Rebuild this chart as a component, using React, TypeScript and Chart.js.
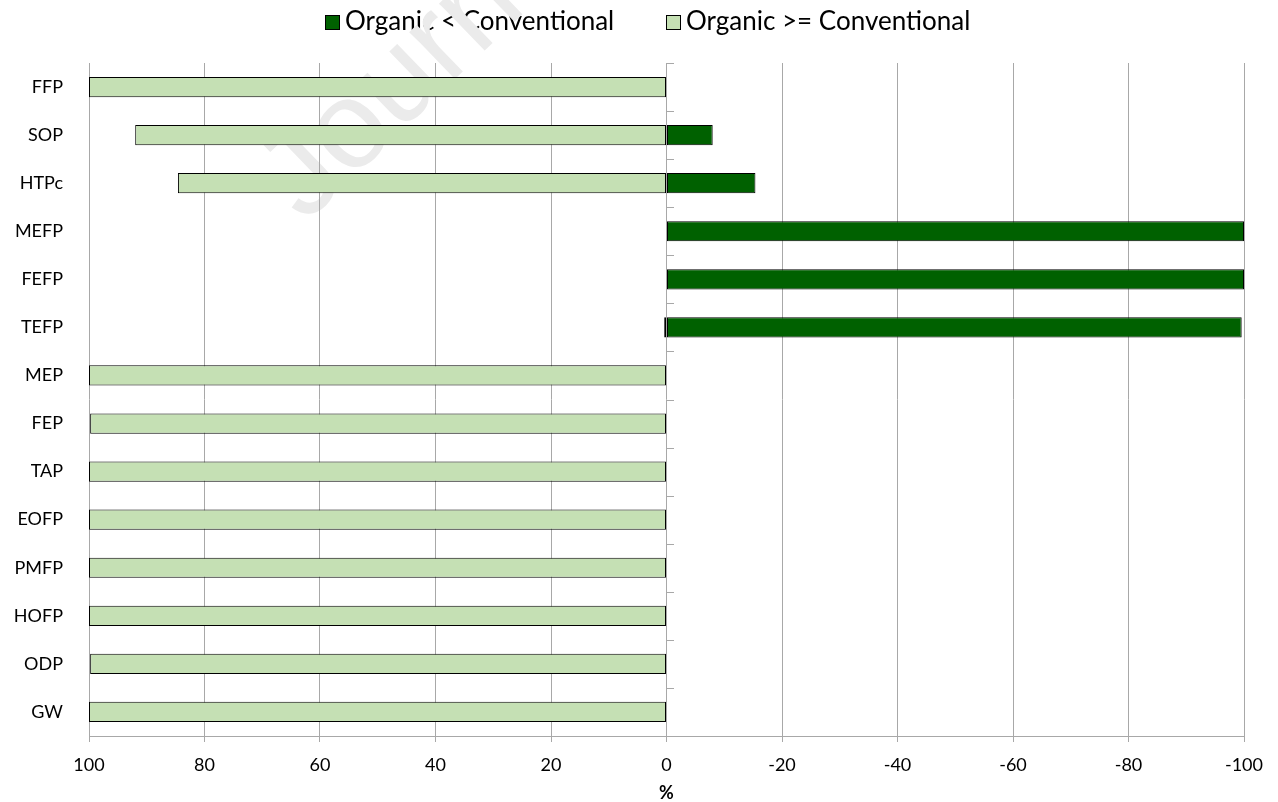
import React, { useEffect, useRef } from "react";
import { Chart, registerables } from "chart.js";

Chart.register(...registerables);

// Impact categories, top to bottom
const categories = [
  "FFP",
  "SOP",
  "HTPc",
  "MEFP",
  "FEFP",
  "TEFP",
  "MEP",
  "FEP",
  "TAP",
  "EOFP",
  "PMFP",
  "HOFP",
  "ODP",
  "GW",
];

// Share (%) of cases where organic scores lower than conventional (plotted to the right, negative)
const organicLower = [0, -8, -15.4, -100, -100, -99.6, 0, 0, 0, 0, 0, 0, 0, 0];

// Share (%) of cases where organic scores equal or higher (plotted to the left, positive)
const organicHigherOrEqual = [100, 92, 84.6, 0, 0, 0.4, 100, 99.8, 100, 100, 100, 100, 99.8, 100];

const seriesLabels = ["Organic < Conventional", "Organic >= Conventional"];

const xMin = -100;
const xMax = 100;
const xStep = 20;
const xTitle = "%";

const DARK_GREEN = "#006100";
const LIGHT_GREEN = "#C5E0B4";
const GRID = "#a8a8a8";
const FONT = "Lato";

// Background, legend row and the faint diagonal stamp behind the plot
const backdropPlugin = {
  id: "backdrop",
  beforeDraw(chart: any) {
    const ctx: CanvasRenderingContext2D = chart.ctx;
    ctx.save();
    ctx.fillStyle = "#ffffff";
    ctx.fillRect(0, 0, chart.width, chart.height);

    ctx.font = `26px ${FONT}`;
    const box = 15;
    const gap = 5;
    const itemGap = 52;
    const items = chart.data.datasets.map((ds: any) => ({
      label: ds.label as string,
      color: ds.backgroundColor as string,
      w: ctx.measureText(ds.label).width,
    }));
    const total =
      items.reduce((s: number, it: any) => s + box + gap + it.w, 0) +
      itemGap * (items.length - 1);
    let x = chart.width / 2 + 9 - total / 2;
    const cy = 22;
    items.forEach((it: any) => {
      const bx = Math.round(x);
      const by = Math.round(cy - box / 2);
      ctx.fillStyle = it.color;
      ctx.fillRect(bx, by, box, box);
      ctx.strokeStyle = "#000";
      ctx.lineWidth = 1;
      ctx.strokeRect(bx + 0.5, by + 0.5, box - 1, box - 1);
      ctx.fillStyle = "#000";
      ctx.textAlign = "left";
      ctx.textBaseline = "middle";
      ctx.fillText(it.label, bx + box + gap, cy);
      x += box + gap + it.w + itemGap;
    });

    ctx.translate(305, 224);
    ctx.rotate((-44 * Math.PI) / 180);
    ctx.font = "124px 'Liberation Sans'";
    ctx.fillStyle = "#ebebeb";
    ctx.textAlign = "left";
    ctx.textBaseline = "alphabetic";
    ctx.fillText("Journal Pre-proof", 0, 0);
    ctx.restore();
  },
};

// Small tick marks on the vertical axis where it crosses x = 0
const zeroAxisTicks = {
  id: "zeroAxisTicks",
  afterDatasetsDraw(chart: any) {
    const ctx: CanvasRenderingContext2D = chart.ctx;
    const xs = chart.scales.x;
    const ys = chart.scales.y;
    const x0 = Math.round(xs.getPixelForValue(0));
    ctx.save();
    ctx.strokeStyle = GRID;
    ctx.lineWidth = 1;
    for (let i = 0; i <= categories.length; i++) {
      const yy = Math.round(ys.getPixelForValue(i - 0.5)) + 0.5;
      ctx.beginPath();
      ctx.moveTo(x0, yy);
      ctx.lineTo(x0 + 7, yy);
      ctx.stroke();
    }
    ctx.restore();
  },
};

export default function App() {
  const canvasRef = useRef<HTMLCanvasElement | null>(null);

  useEffect(() => {
    if (!canvasRef.current) return;
    const chart = new Chart(canvasRef.current, {
      type: "bar",
      data: {
        labels: categories,
        datasets: [
          {
            label: seriesLabels[0],
            data: organicLower,
            backgroundColor: DARK_GREEN,
            borderColor: "#000",
            borderWidth: 1,
            borderSkipped: false,
            barPercentage: 0.42,
            categoryPercentage: 1,
          },
          {
            label: seriesLabels[1],
            data: organicHigherOrEqual,
            backgroundColor: LIGHT_GREEN,
            borderColor: "#000",
            borderWidth: 1,
            borderSkipped: false,
            barPercentage: 0.42,
            categoryPercentage: 1,
          },
        ],
      },
      options: {
        indexAxis: "y",
        animation: false,
        responsive: true,
        maintainAspectRatio: false,
        layout: { padding: { top: 63, right: 34, bottom: 0, left: 0 } },
        plugins: {
          legend: { display: false },
          tooltip: { enabled: false },
        },
        scales: {
          x: {
            type: "linear",
            stacked: true,
            reverse: true,
            min: xMin,
            max: xMax,
            ticks: {
              stepSize: xStep,
              color: "#000",
              padding: 12,
              font: { family: FONT, size: 18 },
            },
            grid: { color: GRID, tickLength: 6, drawTicks: true },
            border: { color: GRID },
            title: {
              display: true,
              text: xTitle,
              color: "#000",
              padding: { top: 0, bottom: 0 },
              font: { family: FONT, size: 18, weight: "bold", lineHeight: 1 },
            },
            afterFit: (s: any) => {
              s.height = 66;
            },
          },
          y: {
            stacked: true,
            grid: { display: false, drawTicks: false },
            border: { display: false },
            ticks: {
              color: "#000",
              padding: 26,
              font: { family: FONT, size: 18 },
            },
            afterFit: (s: any) => {
              s.width = 89;
            },
          },
        },
      },
      plugins: [backdropPlugin, zeroAxisTicks],
    });
    return () => chart.destroy();
  }, []);

  return (
    <div style={{ position: "absolute", left: 0, top: 0, width: 1278, height: 802 }}>
      <canvas ref={canvasRef} />
    </div>
  );
}
